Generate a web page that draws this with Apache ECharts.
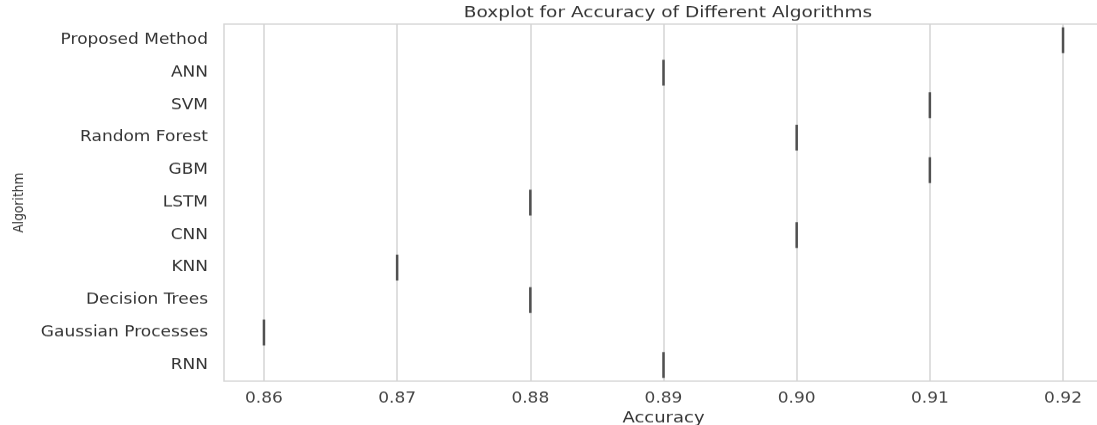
<!DOCTYPE html>
<html>
<head>
<meta charset="utf-8">
<script src="https://cdn.jsdelivr.net/npm/echarts@6/dist/echarts.min.js"></script>
<style>
html,body{margin:0;padding:0;background:#fff;overflow:hidden;width:1097px;height:425px}
#c{width:1097px;height:494px;transform:scaleY(0.8603);transform-origin:0 0}
</style>
</head>
<body>
<div id="c"></div>
<script>
const categories = ['Proposed Method','ANN','SVM','Random Forest','GBM','LSTM','CNN','KNN','Decision Trees','Gaussian Processes','RNN'];
const accuracy = [0.92,0.89,0.91,0.90,0.91,0.88,0.90,0.87,0.88,0.86,0.89];
const tickValues = [0.86,0.87,0.88,0.89,0.90,0.91,0.92];

const chart = echarts.init(document.getElementById('c'));
const font = 'DejaVu Sans';
chart.setOption({
  animation: false,
  title: {
    text: 'Boxplot for Accuracy of Different Algorithms',
    left: 663, top: 1, textAlign: 'center',
    textStyle: {fontFamily: font, fontSize: 18.5, fontWeight: 'normal', color: '#333'}
  },
  grid: {left: 224, top: 28, right: -6, bottom: 51, show: true, borderColor: '#d6d6d6', borderWidth: 1.5,
         containLabel: false, outerBoundsMode: 'none'},
  xAxis: {
    type: 'value', min: 0.857, max: 0.923,
    name: 'Accuracy', nameLocation: 'middle', nameGap: 23,
    nameTextStyle: {fontFamily: font, fontSize: 18, color: '#333'},
    axisLine: {show: false}, axisTick: {show: false, customValues: tickValues},
    axisLabel: {customValues: tickValues, fontFamily: font, fontSize: 17, color: '#444', margin: 12, formatter: v => v.toFixed(2)},
    splitLine: {show: true, lineStyle: {color: '#d4d4d4', width: 1.5}}
  },
  yAxis: {
    type: 'category', data: categories, inverse: true,
    name: 'Algorithm', nameLocation: 'middle', nameGap: 198, nameRotate: 90,
    nameTextStyle: {fontFamily: font, fontSize: 14.3, color: '#333'},
    axisLine: {show: false}, axisTick: {show: false},
    axisLabel: {fontFamily: font, fontSize: 17, color: '#333', margin: 16, padding: [5, 0, 0, 0]},
    splitLine: {show: false}
  },
  series: [{
    type: 'boxplot',
    boxWidth: [30, 30],
    data: accuracy.map(v => [v, v, v, v, v]),
    itemStyle: {color: 'rgba(0,0,0,0)', borderColor: '#505050', borderWidth: 2.5},
    emphasis: {disabled: true}
  }]
});
</script>
</body>
</html>
